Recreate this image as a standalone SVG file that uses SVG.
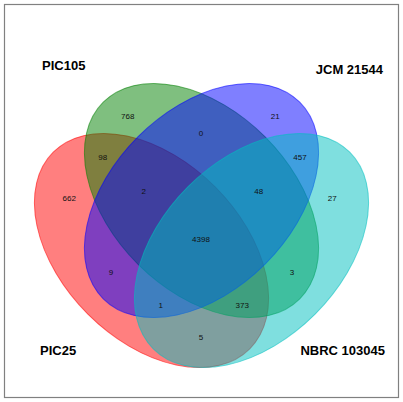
<svg xmlns="http://www.w3.org/2000/svg" width="403" height="402" viewBox="0 0 403 402">
<style>
.set{fill-opacity:0.5;stroke-opacity:0.55;stroke-width:1}
.n{font-family:"Liberation Sans",Arial,sans-serif;font-size:8px;fill:#111;text-anchor:middle}
.t{font-family:"Liberation Sans",Arial,sans-serif;font-size:13px;font-weight:bold;fill:#000}
</style>
<rect x="0" y="0" width="403" height="402" fill="#fff"/>
<rect x="4.5" y="4.5" width="394" height="393" fill="none" stroke="#808080" stroke-width="1.2"/>
<g id="PIC25">
<ellipse class="set" cx="151.5" cy="250.5" rx="139" ry="90" transform="rotate(45 151.5 250.5)" fill="#ff0000" stroke="#ff0000"/>
</g>
<g id="PIC105">
<ellipse class="set" cx="201.5" cy="200.5" rx="139" ry="90" transform="rotate(45 201.5 200.5)" fill="#008000" stroke="#008000"/>
</g>
<g id="JCM21544">
<ellipse class="set" cx="201.5" cy="200.5" rx="139" ry="90" transform="rotate(-45 201.5 200.5)" fill="#0000ff" stroke="#0000ff"/>
</g>
<g id="NBRC103045">
<ellipse class="set" cx="251.5" cy="250.5" rx="139" ry="90" transform="rotate(-45 251.5 250.5)" fill="#00bfbf" stroke="#00bfbf"/>
</g>
<g id="counts">
<text class="n" x="127.7" y="118.9">768</text>
<text class="n" x="201" y="135.6">0</text>
<text class="n" x="275.3" y="118.9">21</text>
<text class="n" x="102.7" y="159.6">98</text>
<text class="n" x="300" y="159.6">457</text>
<text class="n" x="69.3" y="200.6">662</text>
<text class="n" x="143.7" y="193.6">2</text>
<text class="n" x="258.7" y="193.6">48</text>
<text class="n" x="332.3" y="200.6">27</text>
<text class="n" x="201" y="242.2">4398</text>
<text class="n" x="111" y="274.6">9</text>
<text class="n" x="292" y="274.6">3</text>
<text class="n" x="160.7" y="307.9">1</text>
<text class="n" x="242.3" y="307.9">373</text>
<text class="n" x="201" y="340.2">5</text>
</g>
<g id="labels">
<text class="t" x="42" y="69.5">PIC105</text>
<text class="t" x="383" y="74.3" text-anchor="end">JCM 21544</text>
<text class="t" x="40" y="355">PIC25</text>
<text class="t" x="385" y="355" text-anchor="end">NBRC 103045</text>
</g>
</svg>
